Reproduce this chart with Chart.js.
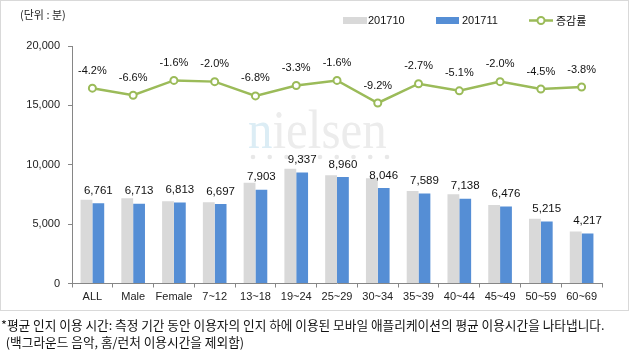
<!DOCTYPE html>
<html>
<head>
<meta charset="utf-8">
<script src="https://cdn.jsdelivr.net/npm/chart.js@4/dist/chart.umd.min.js"></script>
<style>
  html, body { margin: 0; padding: 0; background: #fff; }
  #wrap { position: relative; width: 630px; height: 357px; }
</style>
</head>
<body>
<div id="wrap"><canvas id="c" width="630" height="357"></canvas></div>
<script>
const categories = ['ALL', 'Male', 'Female', '7~12', '13~18', '19~24', '25~29', '30~34', '35~39', '40~44', '45~49', '50~59', '60~69'];
const values201710 = [7057, 7187, 6924, 6834, 8480, 9656, 9106, 8861, 7800, 7522, 6608, 5461, 4384];
const values201711 = [6761, 6713, 6813, 6697, 7903, 9337, 8960, 8046, 7589, 7138, 6476, 5215, 4217];
const changeRate = [-4.2, -6.6, -1.6, -2.0, -6.8, -3.3, -1.6, -9.2, -2.7, -5.1, -2.0, -4.5, -3.8];
const seriesNames = ['201710', '201711', '증감률'];
const unitLabel = '(단위 : 분)';
const footnotes = [
  '*평균 인지 이용 시간: 측정 기간 동안 이용자의 인지 하에 이용된 모바일 애플리케이션의 평균 이용시간을 나타냅니다.',
  ' (백그라운드 음악, 홈/런처 이용시간을 제외함)'
];

const GRAY = '#D9D9D9', BLUE = '#558ED5', GREEN = '#9BBB59';
const NUM_FONT = '"Liberation Sans", Arial, sans-serif';
const KR_FONT = '"Noto Sans CJK KR", "Noto Sans", sans-serif';
const fmt = v => v.toLocaleString('en-US');

const decor = {
  id: 'decor',
  beforeDraw(chart) {
    const ctx = chart.ctx;
    ctx.save();
    ctx.fillStyle = '#fff';
    ctx.fillRect(0, 0, 630, 357);
    // border
    ctx.strokeStyle = '#D9D9D9';
    ctx.lineWidth = 1;
    ctx.strokeRect(0.5, 0.5, 628, 310);
    // watermark
    ctx.save();
    ctx.translate(248, 148);
    ctx.scale(0.89, 1);
    ctx.font = '55px "Liberation Serif", "DejaVu Serif", serif';
    ctx.textBaseline = 'alphabetic';
    ctx.textAlign = 'left';
    ctx.fillStyle = '#DCEDF5';
    ctx.fillText('n', 0, 0);
    const nw = ctx.measureText('n').width;
    ctx.fillStyle = '#ECECEC';
    ctx.fillText('ielsen', nw, 0);
    ctx.restore();
    ctx.fillStyle = '#E8E8E8';
    for (let k = 0; k < 9; k++) {
      ctx.beginPath();
      ctx.arc(253 + 16.75 * k, 157, 2.3, 0, Math.PI * 2);
      ctx.fill();
    }
    // unit label
    ctx.fillStyle = '#222';
    ctx.font = '11px ' + KR_FONT;
    ctx.textBaseline = 'middle';
    ctx.fillText(unitLabel, 20, 15);
    // legend
    ctx.fillStyle = GRAY;
    ctx.fillRect(343, 17, 24, 7);
    ctx.fillStyle = BLUE;
    ctx.fillRect(436, 17, 23, 7);
    ctx.fillStyle = '#111';
    ctx.font = '11px ' + NUM_FONT;
    ctx.fillText(seriesNames[0], 368, 20.5);
    ctx.fillText(seriesNames[1], 462, 20.5);
    ctx.strokeStyle = GREEN;
    ctx.lineWidth = 2.5;
    ctx.beginPath(); ctx.moveTo(529, 20.5); ctx.lineTo(553, 20.5); ctx.stroke();
    ctx.fillStyle = '#fff';
    ctx.lineWidth = 2;
    ctx.beginPath(); ctx.arc(541, 20.5, 3.5, 0, Math.PI * 2); ctx.fill(); ctx.stroke();
    ctx.fillStyle = '#111';
    ctx.font = '11px ' + KR_FONT;
    ctx.fillText(seriesNames[2], 556, 20.5);
    // footnotes
    ctx.fillStyle = '#111';
    ctx.font = '12px ' + KR_FONT;
    const w = ctx.measureText(footnotes[0]).width;
    const fs = 12 * 604 / w;
    ctx.font = fs.toFixed(2) + 'px ' + KR_FONT;
    ctx.fillText(footnotes[0], 1, 325);
    ctx.fillText(footnotes[1], 3, 342.5);
    ctx.restore();
  },
  afterDatasetsDraw(chart) {
    const ctx = chart.ctx;
    ctx.save();
    ctx.textAlign = 'center';
    ctx.textBaseline = 'middle';
    ctx.fillStyle = '#111';
    ctx.font = '11.5px ' + NUM_FONT;
    chart.getDatasetMeta(1).data.forEach((bar, i) => {
      ctx.fillText(fmt(values201711[i]), bar.x, bar.y - 12.5);
    });
    ctx.font = '11px ' + NUM_FONT;
    chart.getDatasetMeta(2).data.forEach((pt, i) => {
      ctx.fillText(changeRate[i].toFixed(1) + '%', pt.x, pt.y - 17.5);
    });
    ctx.restore();
  }
};

new Chart(document.getElementById('c'), {
  type: 'bar',
  data: {
    labels: categories,
    datasets: [
      { label: seriesNames[0], data: values201710, backgroundColor: GRAY, yAxisID: 'y', order: 2,
        categoryPercentage: 0.58, barPercentage: 1.0 },
      { label: seriesNames[1], data: values201711, backgroundColor: BLUE, yAxisID: 'y', order: 2,
        categoryPercentage: 0.58, barPercentage: 1.0 },
      { type: 'line', label: seriesNames[2], data: changeRate, yAxisID: 'y1', order: 1,
        borderColor: GREEN, borderWidth: 2.5, pointRadius: 3.5, pointBorderWidth: 2,
        pointBackgroundColor: '#fff', pointBorderColor: GREEN, tension: 0 }
    ]
  },
  options: {
    responsive: false,
    animation: false,
    devicePixelRatio: 1,
    layout: { padding: { top: 46, right: 28, bottom: 0, left: 0 } },
    plugins: { legend: { display: false }, tooltip: { enabled: false }, title: { display: false } },
    scales: {
      x: {
        afterFit: s => { s.height = 73.5; },
        grid: { display: true, offset: true, drawOnChartArea: false, drawTicks: true, tickLength: 4, color: '#868686' },
        border: { display: true, color: '#868686' },
        ticks: { color: '#222', padding: 3, font: { family: NUM_FONT, size: 11 }, maxRotation: 0, autoSkip: false }
      },
      y: {
        position: 'left',
        min: 0, max: 20000,
        afterFit: s => { s.width = 72; },
        grid: { display: true, drawOnChartArea: false, drawTicks: true, tickLength: 4, color: '#868686' },
        border: { display: true, color: '#868686' },
        ticks: { stepSize: 5000, color: '#222', padding: 8, font: { family: NUM_FONT, size: 11 }, callback: v => fmt(v) }
      },
      y1: {
        display: false,
        min: -70, max: 10
      }
    }
  },
  plugins: [decor]
});
</script>
</body>
</html>
